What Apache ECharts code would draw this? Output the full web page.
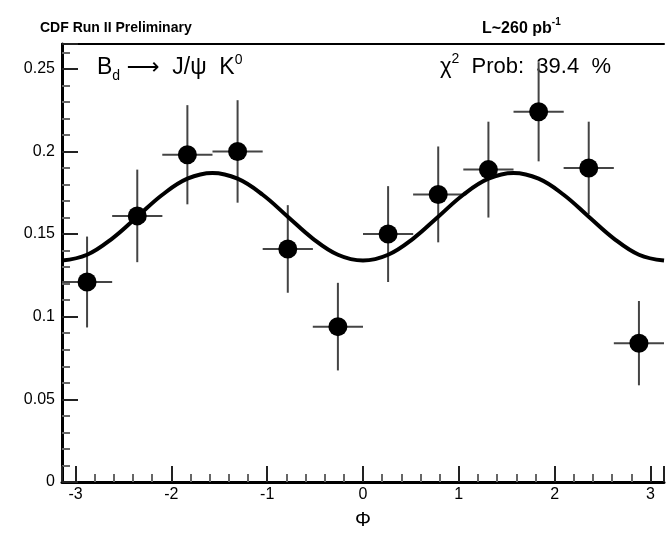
<!DOCTYPE html>
<html><head><meta charset="utf-8">
<script src="https://cdn.jsdelivr.net/npm/echarts@6/dist/echarts.min.js"></script>
<style>html,body{margin:0;padding:0;background:#fff}#c{width:667px;height:535px}</style>
</head><body><div id="c"></div>
<script>
// Bin centres (Φ) and measured values
const phi   = [-2.880, -2.356, -1.833, -1.309, -0.785, -0.262, 0.262, 0.785, 1.309, 1.833, 2.356, 2.880];
const yVal  = [0.121, 0.161, 0.198, 0.200, 0.141, 0.094, 0.150, 0.174, 0.189, 0.224, 0.190, 0.084];
const yErr  = [0.0275, 0.028, 0.030, 0.031, 0.0265, 0.0265, 0.029, 0.029, 0.029, 0.030, 0.028, 0.0255];
const xErr  = [0.262, 0.262, 0.262, 0.262, 0.262, 0.262, 0.262, 0.262, 0.262, 0.262, 0.262, 0.262];
// Fit curve
const fitPhi = [-3.142, -2.880, -2.618, -2.356, -2.094, -1.833, -1.571, -1.309, -1.047, -0.785, -0.524, -0.262, 0,
                 0.262, 0.524, 0.785, 1.047, 1.309, 1.571, 1.833, 2.094, 2.356, 2.618, 2.880, 3.142];
const fitVal = [0.134, 0.1375, 0.1473, 0.1605, 0.1738, 0.1835, 0.187, 0.1835, 0.1738, 0.1605, 0.1473, 0.1375, 0.134,
                0.1375, 0.1473, 0.1605, 0.1738, 0.1835, 0.187, 0.1835, 0.1738, 0.1605, 0.1473, 0.1375, 0.134];
// Tick labels
const xTickLabels = [-3, -2, -1, 0, 1, 2, 3];
const yTickLabels = ['0', '0.05', '0.1', '0.15', '0.2', '0.25'];

const X_MIN = -Math.PI, X_MAX = Math.PI, Y_MIN = 0, Y_MAX = 0.265;
const FONT = '"Liberation Sans", "DejaVu Sans", Arial, Helvetica, sans-serif';

const chart = echarts.init(document.getElementById('c'), null, {renderer: 'canvas'});

const errData = phi.map((p, i) => [p, yVal[i], xErr[i], yErr[i]]);
const ptData = phi.map((p, i) => [p, yVal[i]]);
const fitData = fitPhi.map((p, i) => [p, fitVal[i]]);

const option = {
  animation: false,
  backgroundColor: '#fff',
  grid: {left: 62, right: -10, top: 44, bottom: 48, containLabel: false},
  xAxis: [{
    type: 'value', min: X_MIN, max: X_MAX, splitNumber: 5,
    name: 'Φ', nameLocation: 'middle', nameGap: 28,
    nameTextStyle: {fontFamily: FONT, fontSize: 20, color: '#000'},
    axisLine: {show: true, onZero: false, lineStyle: {color: '#000', width: 3}},
    axisTick: {show: true, inside: true, length: 16, lineStyle: {color: '#222', width: 2}},
    minorTick: {show: true, splitNumber: 5, length: 8, lineStyle: {color: '#666', width: 2}},
    splitLine: {show: false},
    axisLabel: {
      margin: 5, fontFamily: FONT, fontSize: 16, color: '#000',
      showMinLabel: true, showMaxLabel: true,
      formatter: v => {
        const r = Math.round(v);
        return (Math.abs(v - r) < 1e-6 && xTickLabels.indexOf(r) >= 0) ? String(r) : '';
      }
    }
  }, {
    type: 'value', position: 'top', min: X_MIN, max: X_MAX,
    axisLine: {show: true, onZero: false, lineStyle: {color: '#000', width: 2}},
    axisTick: {show: false}, axisLabel: {show: false}, splitLine: {show: false}
  }],
  yAxis: [{
    type: 'value', min: Y_MIN, max: Y_MAX, interval: 0.05,
    axisLine: {show: true, onZero: false, lineStyle: {color: '#000', width: 3}},
    axisTick: {show: true, inside: true, length: 16, lineStyle: {color: '#222', width: 2}},
    minorTick: {show: true, splitNumber: 5, length: 8, lineStyle: {color: '#666', width: 2}},
    splitLine: {show: false},
    axisLabel: {
      margin: 7, fontFamily: FONT, fontSize: 16, color: '#000',
      formatter: v => {
        const k = v / 0.05, r = Math.round(k);
        return (Math.abs(k - r) < 1e-6 && r >= 0 && r < yTickLabels.length) ? yTickLabels[r] : '';
      }
    }
  }],
  graphic: [
    {type: 'text', left: 40, top: 21, style: {text: 'CDF Run II Preliminary', font: 'bold 14px ' + FONT, fill: '#000'}},
    {type: 'text', left: 482, top: 17, style: {
      text: '{n|L~260 pb}{sup|-1}', fill: '#000',
      rich: {n: {font: 'bold 16px ' + FONT, lineHeight: 20, verticalAlign: 'bottom'},
             sup: {font: 'bold 10px ' + FONT, lineHeight: 20, verticalAlign: 'top'}}
    }},
    {type: 'text', left: 97, top: 53, style: {
      text: '{n|B}{sub|d}{n| ⟶  J/ψ  K}{sup|0}', fill: '#000',
      rich: {n: {font: '23px ' + FONT, lineHeight: 30, verticalAlign: 'middle'},
             sub: {font: '14px ' + FONT, lineHeight: 30, verticalAlign: 'bottom'},
             sup: {font: '14px ' + FONT, lineHeight: 30, verticalAlign: 'top'}}
    }},
    {type: 'text', left: 440, top: 52, style: {
      text: '{n|χ}{sup|2}{n|  Prob:  39.4  %}', fill: '#000',
      rich: {n: {font: '22px ' + FONT, lineHeight: 30, verticalAlign: 'middle'},
             sup: {font: '14px ' + FONT, lineHeight: 30, verticalAlign: 'top'}}
    }}
  ],
  series: [
    {
      type: 'custom', z: 2, clip: true,
      data: errData,
      encode: {x: 0, y: 1},
      renderItem: (params, api) => {
        const x = api.value(0), y = api.value(1), ex = api.value(2), ey = api.value(3);
        const l = api.coord([x - ex, y]), r = api.coord([x + ex, y]);
        const t = api.coord([x, y + ey]), b = api.coord([x, y - ey]);
        const st = {stroke: '#444', lineWidth: 2};
        return {type: 'group', children: [
          {type: 'line', shape: {x1: l[0], y1: l[1], x2: r[0], y2: r[1]}, style: st},
          {type: 'line', shape: {x1: t[0], y1: t[1], x2: b[0], y2: b[1]}, style: st}
        ]};
      }
    },
    {
      type: 'line', z: 3, data: fitData, smooth: 0.4, showSymbol: false, symbol: 'none',
      lineStyle: {color: '#000', width: 4}, clip: true
    },
    {
      type: 'scatter', z: 4, data: ptData, symbol: 'circle', symbolSize: 19,
      itemStyle: {color: '#000', opacity: 1}
    }
  ]
};
chart.setOption(option);
</script></body></html>
